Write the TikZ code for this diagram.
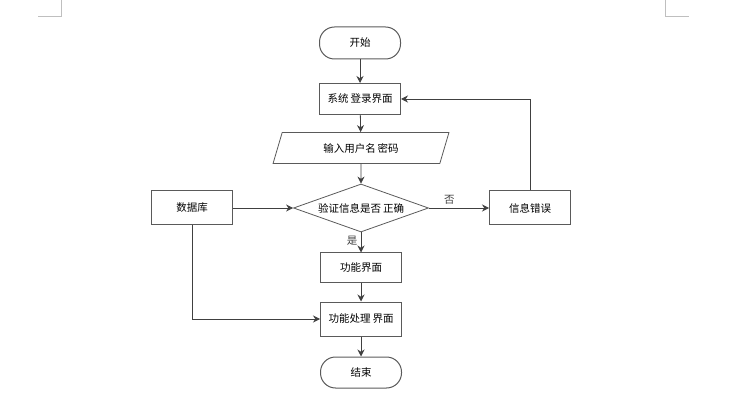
\documentclass[tikz,border=0pt]{standalone}
\usepackage{fontspec}
\setmainfont{Noto Sans CJK SC}
\usepackage{tikz}
\usetikzlibrary{shapes.geometric,arrows.meta}
\definecolor{boxgray}{HTML}{5A5A5A}
\definecolor{linegray}{HTML}{404040}
\definecolor{markgray}{HTML}{BFBFBF}

\begin{document}
\begin{tikzpicture}[x=1pt,y=-1pt,>={Stealth[length=7pt,width=7pt]},
  every node/.style={font=\fontsize{10.5}{12}\selectfont},
  box/.style={draw=boxgray,line width=1pt,minimum width=81pt,minimum height=32pt,inner sep=0pt},
  term/.style={box,rounded corners=15pt},
  io/.style={trapezium,trapezium left angle=66,trapezium right angle=114,trapezium stretches=true,
    draw=boxgray,line width=0.8pt,minimum width=177pt,minimum height=31pt,inner sep=0pt},
  test/.style={diamond,draw=boxgray,line width=0.8pt,aspect=2.8,minimum width=135pt,minimum height=48pt,inner sep=0pt},
  flow/.style={->,linegray,line width=0.8pt}]
  \useasboundingbox (0,0) rectangle (741,395);
  \draw[markgray] (61,0) -- (61,16) -- (38,16);
  \draw[markgray] (665,0) -- (665,16) -- (689,16);

  \node[term] (start) at (360,43) {开始};
  \node[box,minimum height=31pt] (login) at (360,99) {系统\hspace{2pt}登录界面};
  \node[io] (input) at (361,148) {输入用户名\hspace{2pt}密码};
  \node[test] (check) at (361,208) {验证信息是否\hspace{2pt}正确};
  \node[box,minimum height=34pt] (db) at (192,208) {数据库};
  \node[box,minimum height=34pt] (error) at (530,208) {信息错误};
  \node[box,minimum height=29pt] (func) at (361,267.5) {功能界面};
  \node[box,minimum height=34pt] (proc) at (361,319) {功能处理\hspace{2pt}界面};
  \node[term,minimum height=31pt] (end) at (361,372.5) {结束};

  \draw[flow] (start) -- (login);
  \draw[flow] (login) -- (input);
  \draw[flow] (input) -- (check);
  \draw[flow] (db) -- (check);
  \draw[flow] (check) -- node[above,pos=0.34] {否} (error);
  \draw[flow] (error.north) |- (login.east);
  \draw[flow] (check) -- node[left,pos=0.4] {是} (func);
  \draw[flow] (func) -- (proc);
  \draw[flow] (db.south) |- (proc.west);
  \draw[flow] (proc) -- (end);
\end{tikzpicture}
\end{document}
